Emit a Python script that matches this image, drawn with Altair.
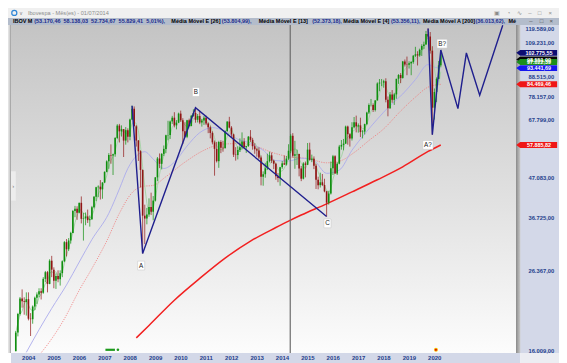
import altair as alt
import pandas as pd

# ---------------- values ----------------
FIRST_MONTH = -3  # first candle = Oct 2003 (months counted from Jan 2004)

opens = [16011, 17983, 20184,
         22236, 21851, 21755, 22142, 19607, 19544, 21149, 22337, 22803, 23245, 23052, 25128,
         26196, 24351, 28139, 26610, 24843, 25592, 25051, 26042, 28043, 31583, 30220, 31917,
         33456, 38383, 38880, 37952, 40365, 36530, 36631, 37077, 36232, 36449, 39262, 41931,
         44474, 44642, 43892, 45804, 48956, 52268, 54392, 54182, 54637, 60465, 65317, 63006,
         63886, 59490, 63489, 60968, 67868, 72593, 65018, 59505, 55680, 49541, 37257, 36596,
         37550, 39301, 38183, 40926, 47290, 53198, 51465, 54766, 56489, 61518, 61546, 67044,
         68588, 65402, 66503, 70372, 67530, 63046, 60936, 67515, 65145, 69430, 70673, 67705,
         69305, 66575, 67383, 68587, 66133, 64620, 62404, 58823, 56495, 52324, 58955, 56875,
         56754, 63072, 66968, 64511, 61820, 54490, 54355, 56097, 57061, 59175, 57068, 57475,
         60952, 59761, 57424, 56352, 55910, 53506, 47457, 48234, 50008, 52338, 54256, 52482,
         51507, 47639, 47094, 50415, 51627, 51239, 53170, 55829, 61288, 54116, 54629, 54724,
         50007, 46908, 51583, 51150, 56229, 52760, 53081, 50865, 46625, 45059, 45869, 45120,
         43350, 40406, 42794, 50055, 53911, 48471, 51527, 57308, 57901, 58367, 64925, 61906,
         60227, 64670, 66662, 64984, 65403, 62711, 62900, 65920, 70835, 74294, 74308, 71971,
         76402, 84913, 85354, 85366, 86115, 76754, 72763, 79220, 76678, 79342, 87424, 89504,
         87887, 97394, 95584, 95415, 96353, 97030, 100967, 101812, 101135, 104745, 107220, 108233,
         115645, 113761, 104172, 73020, 80506, 87403, 95056]
highs = [18158, 20329, 22445,
         23530, 22400, 23100, 23100, 20300, 21300, 22500, 23100, 23700, 23700, 25400, 26400,
         26400, 28400, 29000, 27000, 26000, 26500, 26500, 28200, 31800, 32200, 32400, 33700,
         38600, 39600, 39500, 40400, 42000, 37900, 38000, 38700, 37300, 39600, 42100, 44600,
         45000, 46500, 45900, 49100, 52600, 55000, 58100, 54800, 60800, 65900, 66000, 65400,
         63886, 64700, 64200, 68200, 73920, 73600, 65500, 59700, 56000, 49700, 39900, 39100,
         41500, 43000, 42100, 47400, 53700, 54900, 55000, 57700, 61700, 67300, 67400, 69400,
         71000, 67600, 70800, 71700, 68400, 66700, 67700, 68200, 69800, 72300, 72996, 70200,
         71600, 68100, 69300, 69500, 66600, 65300, 63000, 59500, 59000, 59400, 59600, 59400,
         63400, 67100, 68970, 65100, 62100, 57100, 57400, 60300, 62600, 60400, 57500, 61200,
         63500, 60500, 58500, 56900, 57000, 54200, 49100, 51800, 54800, 55500, 55200, 52800,
         51800, 48600, 50500, 52400, 54200, 54000, 58138, 61900, 62300, 59400, 56200, 54800,
         50800, 52000, 52200, 58600, 58700, 54500, 53900, 51500, 47500, 48700, 48300, 46900,
         43500, 43500, 52200, 54400, 54300, 52000, 57900, 59700, 60100, 65300, 65300, 62300,
         66700, 68900, 69500, 66200, 68600, 63500, 66100, 71200, 75000, 77100, 75000, 76500,
         85500, 87300, 87300, 86900, 87700, 78300, 80500, 81500, 80100, 87400, 90000, 90600,
         97700, 98600, 100400, 97500, 97600, 101300, 106700, 103800, 105500, 108400, 110200, 117800,
         119589, 117000, 107100, 82300, 88200, 97700, 104600]
lows = [16009, 17560, 20000,
        21000, 20100, 19990, 19400, 17600, 19000, 20700, 21500, 22400, 22100, 22900, 24600,
        23100, 24300, 25400, 23700, 23600, 24600, 24100, 25400, 27900, 28900, 29900, 31300,
        33400, 36900, 36300, 37800, 35500, 31900, 35100, 35600, 34800, 36300, 39000, 40800,
        41800, 41200, 41400, 45700, 48800, 49900, 51500, 48000, 53800, 60000, 58800, 61000,
        53700, 58000, 58800, 59600, 67600, 65000, 57300, 52400, 44400, 29435, 31200, 35300,
        37000, 37400, 36200, 40700, 46200, 50100, 49700, 54000, 55000, 59600, 60100, 66000,
        64600, 63800, 66300, 66800, 58200, 60600, 60400, 64900, 65000, 69000, 66500, 66600,
        65900, 64900, 65600, 65500, 62300, 60300, 58100, 47800, 51900, 50200, 55000, 55500,
        56700, 62900, 64200, 60800, 53700, 52500, 52900, 55400, 56300, 56500, 55100, 57200,
        59000, 56200, 54800, 53800, 53000, 45000, 44900, 47200, 49600, 51900, 51700, 49800,
        46600, 45900, 44900, 49900, 51100, 50900, 52735, 55000, 53500, 49900, 51100, 47600,
        46200, 46700, 47300, 51100, 52500, 52000, 49800, 44000, 43900, 44400, 44800, 43100,
        37046, 39900, 42500, 48000, 48400, 48000, 51300, 56200, 56000, 58300, 58000, 57300,
        59500, 64200, 62600, 62500, 60800, 60300, 61800, 65500, 70200, 73600, 71100, 71300,
        76400, 80900, 83500, 82700, 75500, 69200, 72500, 75300, 74300, 77200, 84700, 85100,
        87500, 94400, 89400, 93200, 89400, 96000, 100100, 95000, 100300, 100800, 105300, 108100,
        111800, 102300, 61691, 67800, 75600, 87300, 93900]
closes = [17982, 20184, 22236,
          21851, 21755, 22142, 19607, 19544, 21149, 22337, 22803, 23245, 23052, 25128, 26196,
          24351, 28139, 26610, 24843, 25592, 25051, 26042, 28043, 31583, 30220, 31917, 33456,
          38383, 38880, 37952, 40365, 36530, 36631, 37077, 36232, 36449, 39262, 41931, 44474,
          44642, 43892, 45804, 48956, 52268, 54392, 54182, 54637, 60465, 65317, 63006, 63886,
          59490, 63489, 60968, 67868, 72593, 65018, 59505, 55680, 49541, 37257, 36596, 37550,
          39301, 38183, 40926, 47290, 53198, 51465, 54766, 56489, 61518, 61546, 67044, 68588,
          65402, 66503, 70372, 67530, 63046, 60936, 67515, 65145, 69430, 70673, 67705, 69305,
          66575, 67383, 68587, 66133, 64620, 62404, 58823, 56495, 52324, 58955, 56875, 56754,
          63072, 66968, 64511, 61820, 54490, 54355, 56097, 57061, 59175, 57068, 57475, 60952,
          59761, 57424, 56352, 55910, 53506, 47457, 48234, 50008, 52338, 54256, 52482, 51507,
          47639, 47094, 50415, 51627, 51239, 53168, 55829, 61288, 54116, 54629, 54724, 50007,
          46908, 51583, 51150, 56229, 52760, 53081, 50865, 46625, 45059, 45869, 45120, 43350,
          40406, 42794, 50055, 53911, 48471, 51527, 57308, 57901, 58367, 64925, 61906, 60227,
          64670, 66662, 64984, 65403, 62711, 62900, 65920, 70835, 74294, 74308, 71971, 76402,
          84913, 85354, 85366, 86115, 76754, 72763, 79220, 76678, 79342, 87424, 89504, 87887,
          97394, 95584, 95415, 96353, 97030, 100967, 101812, 101135, 104745, 107220, 108233, 115645,
          113761, 104172, 73020, 80506, 87403, 95056, 102776]

# moving-average curves (month index, value)
sma200_m = [54, 60, 72, 84, 96, 108, 120, 126, 132, 144, 156, 168, 180, 192, 198]
sma200_v = [17400, 18800, 22000, 25200, 28600, 31800, 34600, 36014, 37400, 40100, 43200,
            46600, 50500, 55600, 57886]
ema26_m = [8, 14, 20, 27, 33, 40, 46, 52, 57, 62, 68, 77, 86, 95, 104, 111, 118, 126, 135,
           144, 150, 157, 164, 171, 179, 186, 192, 198]
ema26_v = [15600, 17300, 19600, 23400, 26800, 31800, 37800, 43000, 44700, 45000, 47500, 52000,
           56000, 58200, 58400, 57300, 55300, 53805, 53200, 51800, 52300, 55200, 59500, 64000,
           71500, 78000, 83000, 84469]
ema13_m = [2, 8, 14, 21, 27, 33, 41, 46, 50, 54, 58, 62, 67, 72, 78, 84, 90, 96, 102, 108, 114,
           120, 126, 132, 138, 144, 150, 156, 162, 168, 174, 180, 186, 192, 195, 198]
ema13_v = [15900, 18300, 20900, 24200, 27900, 32100, 37800, 44000, 50000, 54000, 55500, 53000,
           50000, 52000, 57500, 62500, 64500, 63000, 60000, 58500, 56000, 52500, 52373, 53300,
           52500, 48500, 49500, 56000, 62000, 68000, 74000, 79500, 87000, 95500, 94000, 93442]

wave1_m = [52, 57, 82, 144]
wave1_v = [73920, 29435, 72996, 37046]
wave2_m = [192, 194, 198, 206.1, 210.1, 216.4, 227.3]
wave2_v = [119589, 61691, 104600, 72600, 102700, 78900, 122000]
wave_labels = ["A", "B", "C", "A?", "B?"]
wave_label_m = [56.3, 82.2, 144.4, 191.9, 198.6]
wave_label_v = [27300, 80500, 35500, 57900, 108800]

cursor_m = [126.8]
price_ticks = [16009, 26367, 36725, 47083, 67799, 78157, 88515, 109231, 119589]
year_ticks = list(range(0, 193, 12))  # January 2004 ... January 2020

tag_values = [98551.00, 102775.55, 97022.39, 93441.69, 84469.46, 57885.82]
tag_colors = ["#050505", "#0d0d72", "#1d8f1d", "#1717ef", "#ef1717", "#ef1717"]

event_bar_m = [39.4, 43.9]
event_green_m = [45.3]
event_yellow_m = [195.7]

window_title = "Ibovespa - Mês(es) - 01/07/2014"
legend_names = ["IBOV M", "Média Móvel E [26]", "Média Móvel E [13]", "Média Móvel E [4]",
                "Média Móvel A [200]", "Mé"]
legend_values = ["(53.170,46  58.138,03  52.734,67  55.829,41  5,01%),", "(53.804,99),",
                 "(52.373,18),", "(53.356,11),", "(36.013,62),"]

# ---------------- layout / style ----------------
FONT = "Liberation Sans"
NAVY = "#24408c"
UP, DN = "#0f8f0f", "#901515"
W, H = 505, 328
X_DOM = [-2.89, 231.2]
Y_DOM = [15832, 122242]


def px(X):
    return round(0.9718 * X - 3, 1)


def py(Y):
    return round(0.978 * Y - 17, 1)


legend_name_x = [5, 168, 258, 345, 427, 515]
legend_value_x = [27, 220, 313, 394, 481]

BR = "replace(replace(replace(format({v}, ',.2f'), ',', '_'), '.', ','), '_', '.')"

xs = alt.Scale(domain=X_DOM, nice=False, zero=False)
ys = alt.Scale(type="log", domain=Y_DOM, nice=False, zero=False)

one = pd.DataFrame({"k": [0]})


def box(x1, y1, x2, y2, color, **kw):
    return alt.Chart(one).mark_rect(color=color, **kw).encode(
        x=alt.value(x1), x2=alt.value(x2), y=alt.value(y1), y2=alt.value(y2))


def txt(s, x, y, size=5.6, color="#000000", weight="normal", align="left"):
    return alt.Chart(one).mark_text(text=s.replace("  ", " \u00a0"), align=align, baseline="middle",
                                    fontSize=size, fontWeight=weight, color=color, font=FONT).encode(
        x=alt.value(x), y=alt.value(y))


def X(field):
    return alt.X(field, type="quantitative", scale=xs, axis=None)


def Y(field):
    return alt.Y(field, type="quantitative", scale=ys, axis=None)


layers = []
# window chrome
layers.append(box(px(0), py(0), px(567), py(10.2), "#f0f0f0"))
layers.append(box(px(0), py(10.2), px(567), 0, "#b3bccb"))
layers.append(box(px(0), 0, 0, H, "#e2e2e2"))
grad = alt.Gradient(gradient="linear",
                    stops=[alt.GradientStop(color="#c4c4c4", offset=0),
                           alt.GradientStop(color="#dfdfdf", offset=0.5),
                           alt.GradientStop(color="#fcfcfc", offset=1)],
                    x1=0, x2=0, y1=0, y2=1)
layers.append(alt.Chart(one).mark_rect(color=grad).encode(
    x=alt.value(0), x2=alt.value(W), y=alt.value(0), y2=alt.value(H)))
layers.append(box(-1.2, 0, -0.2, H, "#9c9c9c"))
layers.append(box(0, py(167), px(8), py(197), "#ededed"))
layers.append(txt("›", px(5.5), py(182), size=6, color="#777777", align="center"))
layers.append(box(0, H, px(527), py(363), "#d3d8e8"))
layers.append(box(px(527), 0, px(567), H, "#d3d8e8"))
layers.append(box(px(527), H, px(567), py(363), "#ecedf2"))

# moving averages
layers.append(alt.Chart(pd.DataFrame({"m": sma200_m, "v": sma200_v})).mark_line(
    color="#f22020", strokeWidth=1.5, interpolate="monotone", clip=True).encode(x=X("m"), y=Y("v")))
layers.append(alt.Chart(pd.DataFrame({"m": ema26_m, "v": ema26_v})).mark_line(
    color="#f07a7a", strokeWidth=0.8, strokeDash=[1.2, 1.2], interpolate="monotone", clip=True).encode(
    x=X("m"), y=Y("v")))
layers.append(alt.Chart(pd.DataFrame({"m": ema13_m, "v": ema13_v})).mark_line(
    color="#ababec", strokeWidth=0.9, interpolate="monotone", clip=True).encode(x=X("m"), y=Y("v")))

cdf = pd.DataFrame({"m": list(range(FIRST_MONTH, FIRST_MONTH + len(closes))),
                    "o": opens, "h": highs, "l": lows, "c": closes})
layers.append(alt.Chart(cdf).transform_window(g="mean(c)", frame=[-3, 0], sort=[alt.SortField("m")])
              .mark_line(color="#a3d3a3", strokeWidth=0.9, clip=True).encode(x=X("m"), y=Y("g")))

# cursor line
layers.append(alt.Chart(pd.DataFrame({"m": cursor_m})).mark_rule(color="#6c6c6c", strokeWidth=1.2).encode(
    x=X("m"), y=alt.value(0), y2=alt.value(H)))

# candles
ccol = alt.condition("datum.c >= datum.o", alt.value(UP), alt.value(DN))
layers.append(alt.Chart(cdf).mark_rule(strokeWidth=0.7, clip=True).encode(
    x=X("m"), y=Y("l"), y2="h:Q", color=ccol))
layers.append(alt.Chart(cdf).mark_bar(size=1.6, clip=True).encode(
    x=X("m"), y=Y("o"), y2="c:Q", color=ccol))

# wave lines
for wm, wv in ((wave1_m, wave1_v), (wave2_m, wave2_v)):
    layers.append(alt.Chart(pd.DataFrame({"m": wm, "v": wv})).mark_line(
        color="#1f1f8e", strokeWidth=1.4, clip=True).encode(x=X("m"), y=Y("v")))

SQ1 = "M-0.8,-1L0.8,-1L0.8,1L-0.8,1Z"
SQ2 = "M-1.15,-1L1.15,-1L1.15,1L-1.15,1Z"
ldf = pd.DataFrame({"m": wave_label_m, "v": wave_label_v, "t": wave_labels,
                    "shp": [SQ1 if len(t) == 1 else SQ2 for t in wave_labels]})
layers.append(alt.Chart(ldf).mark_point(filled=True, color="#ffffff", stroke="#c4c4c4", strokeWidth=0.5,
                                        opacity=1, size=78).encode(
    x=X("m"), y=Y("v"), shape=alt.Shape("shp:N", scale=None)))
layers.append(alt.Chart(ldf).mark_text(fontSize=6.3, font=FONT, color="#1a1a1a", baseline="middle").encode(
    x=X("m"), y=Y("v"), text="t:N"))

# bottom event markers
layers.append(alt.Chart(pd.DataFrame({"a": [event_bar_m[0]], "b": [event_bar_m[1]]})).mark_rule(
    color="#1d9a1d", strokeWidth=2.2).encode(x=X("a"), x2="b:Q", y=alt.value(py(349.5))))
layers.append(alt.Chart(pd.DataFrame({"m": event_green_m})).mark_point(
    filled=True, color="#1d9a1d", size=7, opacity=1).encode(x=X("m"), y=alt.value(py(349.5))))
layers.append(alt.Chart(pd.DataFrame({"m": event_yellow_m})).mark_point(
    filled=True, color="#f5c400", size=16, opacity=1).encode(x=X("m"), y=alt.value(py(349.5))))
layers.append(alt.Chart(pd.DataFrame({"m": event_yellow_m})).mark_point(
    filled=True, color="#e01010", size=5, opacity=1).encode(x=X("m"), y=alt.value(py(349.5))))

# shadow between plot and price column
shadow = alt.Gradient(gradient="linear",
                      stops=[alt.GradientStop(color="#8a8a8a", offset=0),
                             alt.GradientStop(color="#c9c9c9", offset=1)],
                      x1=0, x2=1, y1=0, y2=0)
layers.append(alt.Chart(one).mark_rect(color=shadow).encode(
    x=alt.value(W), x2=alt.value(px(527.3)), y=alt.value(0), y2=alt.value(H)))

# axis labels (price column on the right, years at the bottom)
layers.append(alt.Chart(pd.DataFrame({"v": price_ticks})).transform_calculate(
    lbl=BR.format(v="datum.v")).mark_text(
    fontSize=5.8, fontWeight="bold", font=FONT, color=NAVY, align="right", baseline="middle").encode(
    x=alt.value(px(562)), y=Y("v"), text="lbl:N"))
layers.append(alt.Chart(pd.DataFrame({"m": year_ticks})).transform_calculate(
    lbl="toString(2004 + round(datum.m / 12))").mark_text(
    fontSize=6, fontWeight="bold", font=FONT, color=NAVY, align="left", baseline="middle").encode(
    x=X("m"), y=alt.value(py(358)), text="lbl:N"))

# price tags
TAG = "M-1,0L-0.81,-0.145L1,-0.145L1,0.145L-0.81,0.145Z"
tdf = pd.DataFrame({"v": tag_values, "col": tag_colors})
layers.append(alt.Chart(tdf).mark_point(filled=True, opacity=1, strokeWidth=0).encode(
    x=alt.value(px(544)), y=Y("v"), color=alt.Color("col:N", scale=None),
    shape=alt.value(TAG), size=alt.value(1665)))
layers.append(alt.Chart(tdf).transform_calculate(lbl=BR.format(v="datum.v")).mark_text(
    fontSize=5.4, fontWeight="bold", font=FONT, color="#ffffff", baseline="middle").encode(
    x=alt.value(px(546.5)), y=Y("v"), text="lbl:N"))

# title bar
layers.append(alt.Chart(one).mark_point(shape="circle", color="#2f86d6", strokeWidth=1.2, size=26,
                                        opacity=1).encode(x=alt.value(px(6.5)), y=alt.value(py(5))))
layers.append(txt("v", px(13.5), py(5), size=5, color="#777777", align="center"))
layers.append(txt(window_title, px(20.5), py(5), size=5.6, color="#8c8c8c"))
for ch, xx in zip(["▣", "◔", "∿", "–", "□", "×"], [503, 515, 526, 537, 547, 558]):
    layers.append(txt(ch, px(xx), py(5), size=6, color="#8c8c8c", align="center"))
for ch, xx in zip(["–", "□", "×"], [538, 549, 559]):
    layers.append(txt(ch, px(xx), py(13.5), size=6, color="#505050", align="center"))

# legend line
for s, xx in zip(legend_names, legend_name_x):
    layers.append(txt(s, px(xx), py(13.6), size=5.5, color="#000000", weight="bold"))
for s, xx in zip(legend_values, legend_value_x):
    layers.append(txt(s, px(xx), py(13.6), size=5.5, color="#1c2c8e", weight="bold"))

chart = alt.layer(*layers).properties(
    width=W, height=H,
    padding={"left": 3, "top": 17, "right": 43, "bottom": 10},
    autosize=alt.AutoSizeParams(type="none"),
    background="#ffffff",
).configure_view(stroke=None)

chart.save("out.html", embed_options={"renderer": "svg", "actions": False})
